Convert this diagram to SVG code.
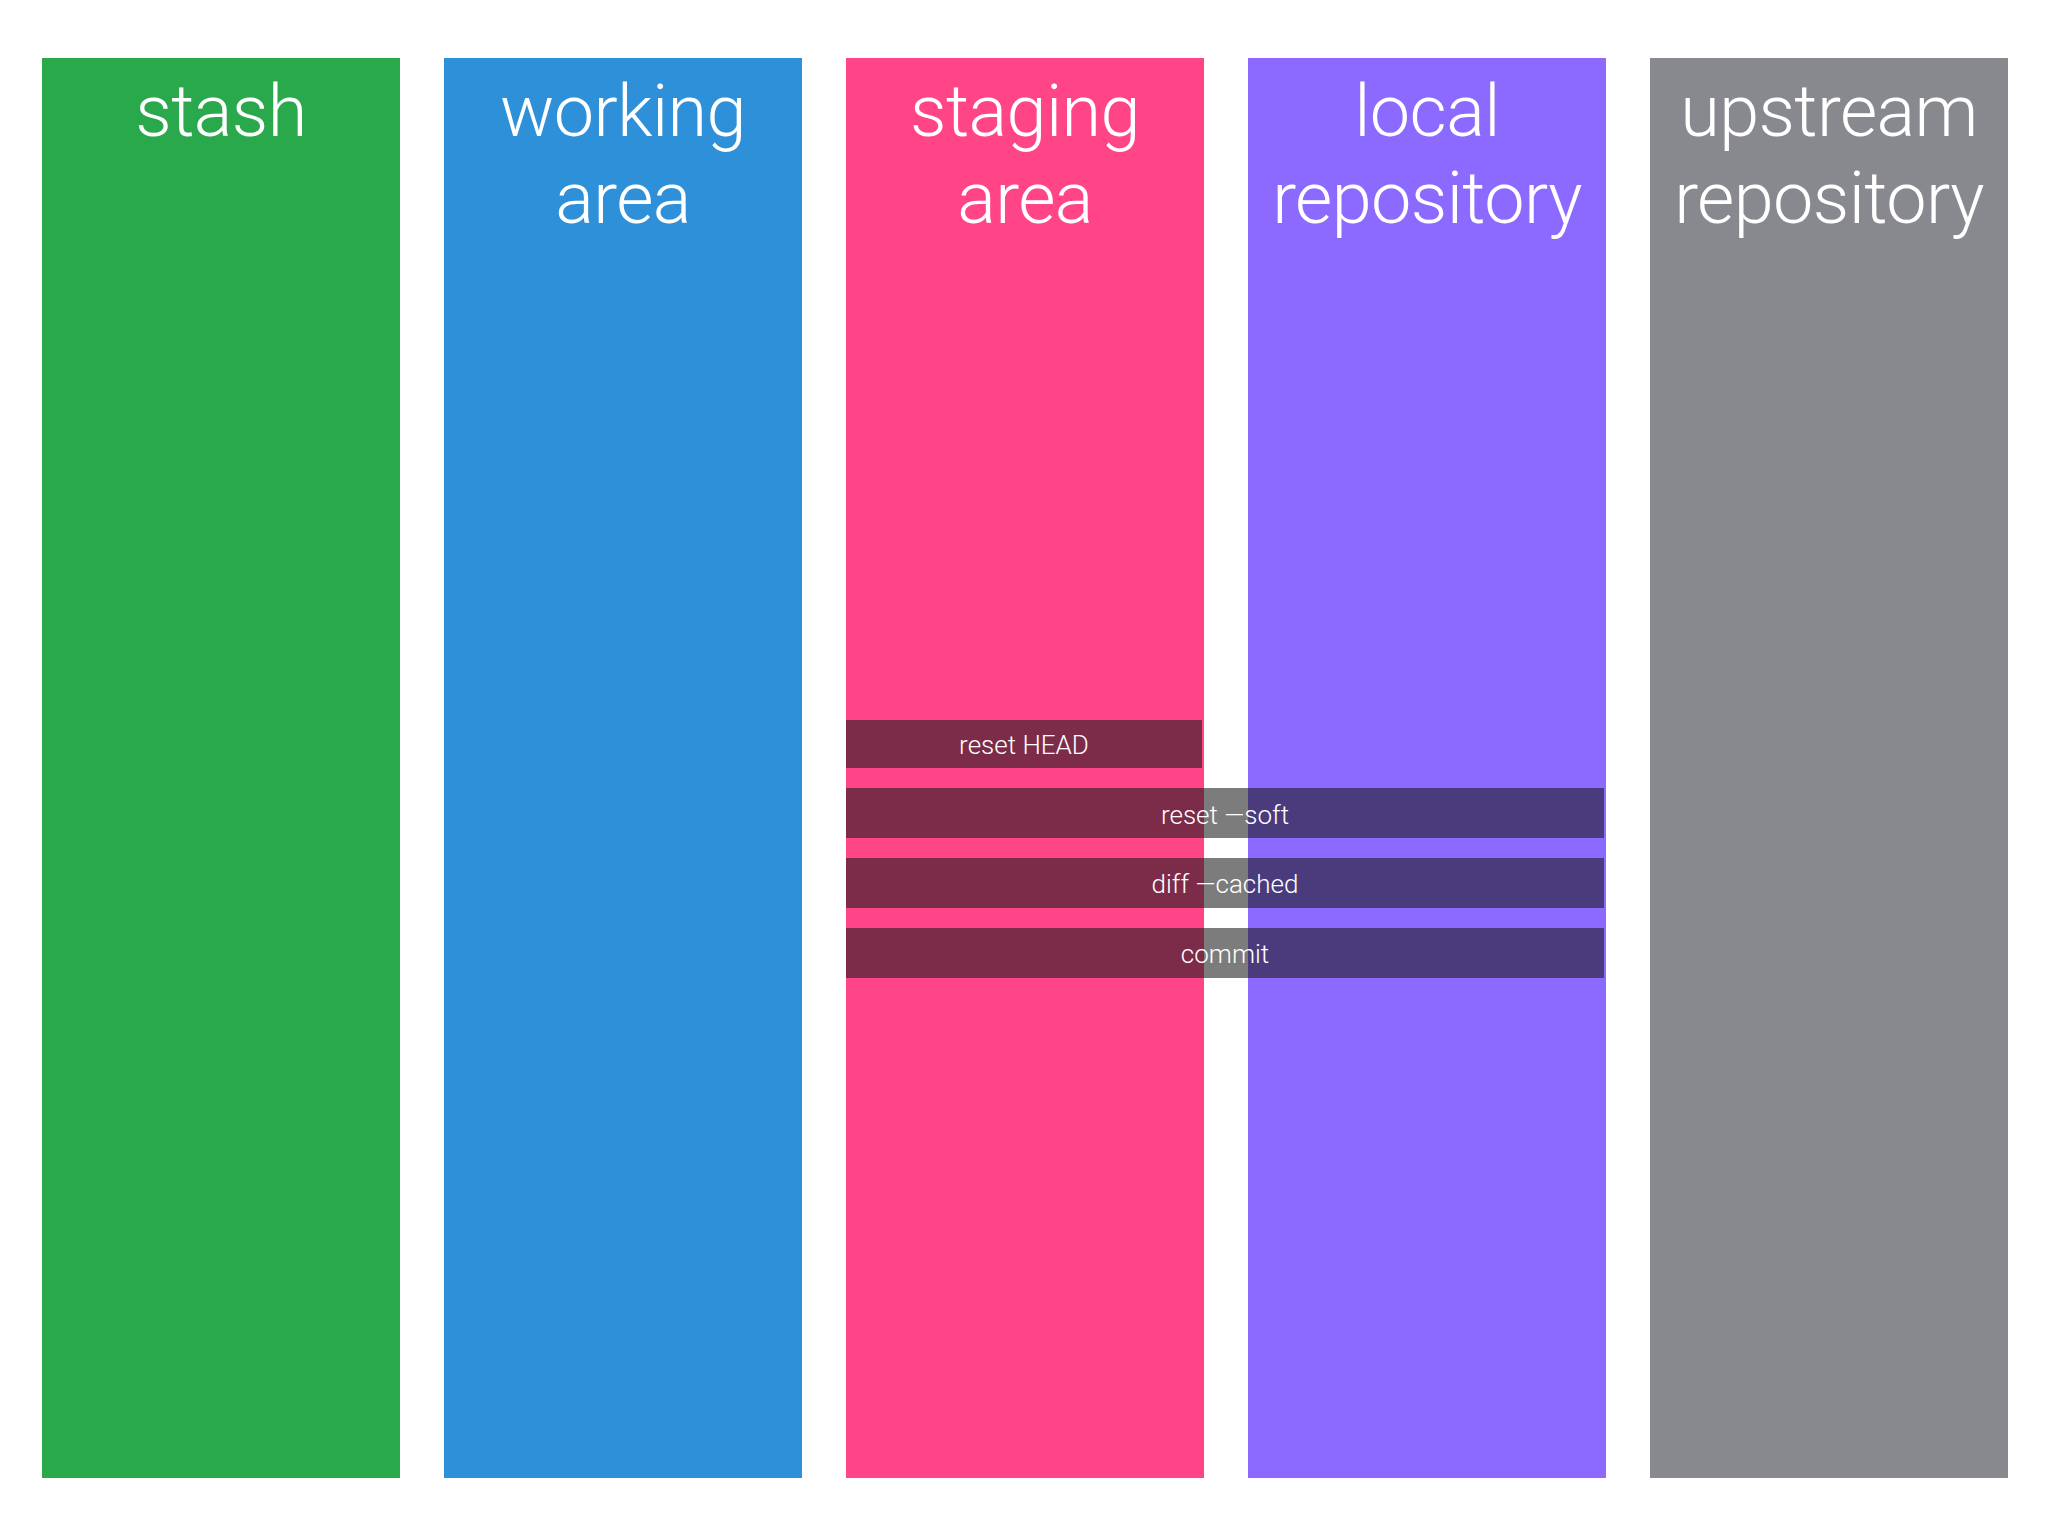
<svg xmlns="http://www.w3.org/2000/svg" width="2048" height="1536" viewBox="0 0 2048 1536">
  <style>
    .col { stroke: none; }
    .title { font-family: Roboto, "Liberation Sans", sans-serif; font-weight: 300; font-size: 72px; letter-spacing: -0.6px; fill: #ffffff; text-anchor: middle; }
    .bar { fill: #181818; fill-opacity: 0.57; }
    .cmd { font-family: Roboto, "Liberation Sans", sans-serif; font-weight: 300; font-size: 26px; fill: #ffffff; text-anchor: middle; }
  </style>
  <rect x="0" y="0" width="2048" height="1536" fill="#ffffff"/>
  <g id="stash">
    <rect class="col" x="42" y="58" width="358" height="1420" fill="#2aa84c"/>
    <text class="title" x="221" y="136">stash</text>
  </g>
  <g id="working-area">
    <rect class="col" x="444" y="58" width="358" height="1420" fill="#2e90d8"/>
    <text class="title" x="623" y="136">working</text>
    <text class="title" x="623" y="223">area</text>
  </g>
  <g id="staging-area">
    <rect class="col" x="846" y="58" width="358" height="1420" fill="#ff4488"/>
    <text class="title" x="1025" y="136">staging</text>
    <text class="title" x="1025" y="223">area</text>
  </g>
  <g id="local-repository">
    <rect class="col" x="1248" y="58" width="358" height="1420" fill="#8c6aff"/>
    <text class="title" x="1427" y="136">local</text>
    <text class="title" x="1427" y="223">repository</text>
  </g>
  <g id="upstream-repository">
    <rect class="col" x="1650" y="58" width="358" height="1420" fill="#88888f"/>
    <text class="title" x="1829" y="136">upstream</text>
    <text class="title" x="1829" y="223">repository</text>
  </g>
  <g id="connectors">
    <g id="reset-head">
      <rect class="bar" x="846" y="720" width="356" height="48"/>
      <text class="cmd" x="1024" y="754">reset HEAD</text>
    </g>
    <g id="reset-soft">
      <rect class="bar" x="846" y="788" width="758" height="50"/>
      <text class="cmd" x="1225" y="824">reset —soft</text>
    </g>
    <g id="diff-cached">
      <rect class="bar" x="846" y="858" width="758" height="50"/>
      <text class="cmd" x="1225" y="893">diff —cached</text>
    </g>
    <g id="commit">
      <rect class="bar" x="846" y="928" width="758" height="50"/>
      <text class="cmd" x="1225" y="963">commit</text>
    </g>
  </g>
</svg>
